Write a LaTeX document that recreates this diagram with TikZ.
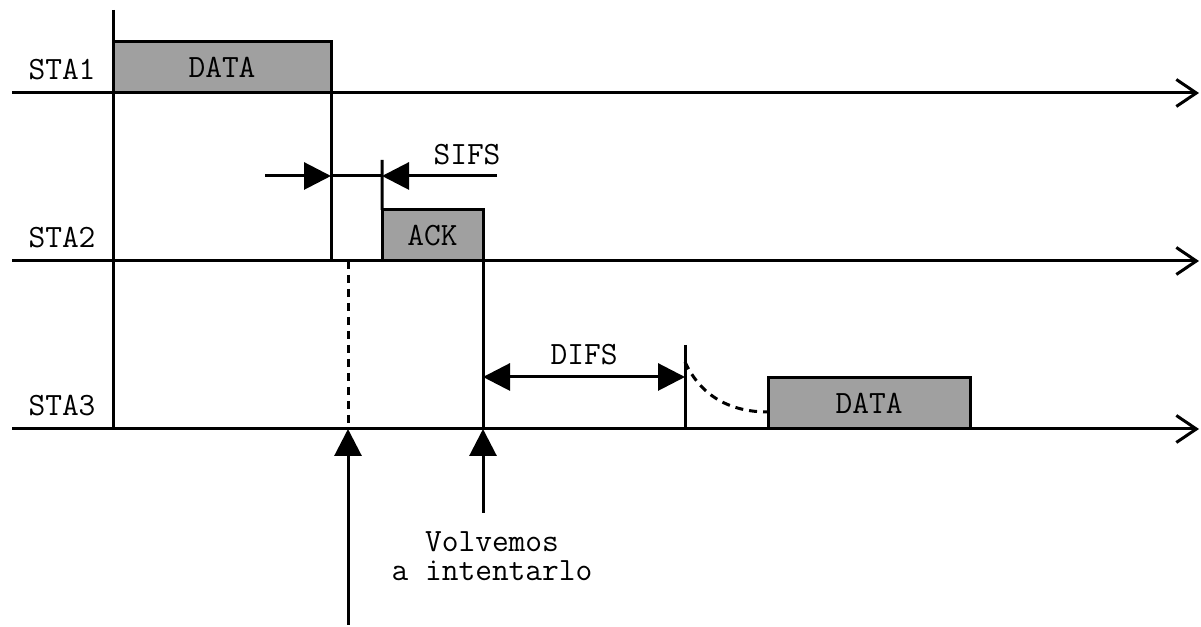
\documentclass[tikz,border=0pt]{standalone}
\usetikzlibrary{arrows.meta}
\definecolor{framegray}{RGB}{160,160,160}
\tikzset{
  line/.style={line width=0.06cm},
  frame/.style={line, draw, fill=framegray, rectangle, inner sep=0pt, outer sep=0pt, minimum height=1.02cm},
  lbl/.style={font=\ttfamily\fontsize{18.5}{16.2}\selectfont, inner sep=0pt},
  timeline/.style={line, -{Straight Barb[length=0.40cm,width=0.54cm,line width=0.06cm]}},
  tri/.tip={Triangle[length=0.54cm,width=0.54cm]}
}
\begin{document}
\begin{tikzpicture}
\useasboundingbox (0,0) rectangle (24.02,12.54);
% time axes
\coordinate (t1s) at (0.240,10.680);
\coordinate (t1e) at (23.980,10.680);
\coordinate (t2s) at (0.240,7.320);
\coordinate (t2e) at (23.980,7.320);
\coordinate (t3s) at (0.240,3.960);
\coordinate (t3e) at (23.980,3.960);
\draw[timeline] (t1s) -- (t1e);
\draw[timeline] (t2s) -- (t2e);
\draw[timeline] (t3s) -- (t3e);
\node[lbl] (sta1) at (1.240,11.140) {STA1};
\node[lbl] (sta2) at (1.240,7.780) {STA2};
\node[lbl] (sta3) at (1.240,4.420) {STA3};
% frames
\node[frame, minimum width=4.36cm, lbl] (data1) at (4.440,11.190) {DATA};
\node[frame, minimum width=2.02cm, lbl] (ack) at (8.650,7.830) {ACK};
\node[frame, minimum width=4.04cm, lbl] (data3) at (17.380,4.470) {DATA};
% vertical marks
\coordinate (start) at (2.260,12.340);
\draw[line] (start) -- (start |- t3s);
\draw[line] (data1.south east) -- (data1.south east |- t2s);
\draw[line] (ack.south east) -- (ack.south east |- t3s);
\coordinate (sifstop) at (7.640,9.340);
\draw[line] (sifstop) -- (ack.north west);
% SIFS
\coordinate (sifsL) at (5.300,9.020);
\coordinate (sifsR) at (9.940,9.020);
\draw[line, -{tri}] (sifsL) -- (sifsL -| data1.east);
\draw[line, -{tri}] (sifsR) -- (sifsR -| ack.west);
\draw[line] (sifsL -| data1.east) -- (sifsR -| ack.west);
\node[lbl] (sifs) at (9.340,9.440) {SIFS};
% DIFS
\coordinate (difsend) at (13.700,5.000);
\coordinate (difstop) at (13.700,5.640);
\draw[line, {tri}-{tri}] (difsend -| ack.east) -- (difsend);
\draw[line] (difstop) -- (difstop |- t3s);
\node[lbl] (difs) at (11.680,5.440) {DIFS};
\coordinate (backoff) at (13.700,5.300);
\draw[line, dash pattern=on 0.16cm off 0.12cm] (backoff) to[out=-65,in=180] (data3.west |- 0,4.300);
% collision and retry
\coordinate (col) at (6.960,3.960);
\coordinate (colfoot) at (6.960,0.040);
\draw[line, dash pattern=on 0.16cm off 0.12cm] (col |- t2s) -- (col);
\draw[line, -{tri}] (colfoot) -- (col);
\coordinate (retryfoot) at (9.660,2.280);
\draw[line, -{tri}] (retryfoot) -- (retryfoot |- t3s);
\node[lbl, align=center] (retry) at (9.840,1.420) {Volvemos\\a intentarlo};
\end{tikzpicture}
\end{document}
